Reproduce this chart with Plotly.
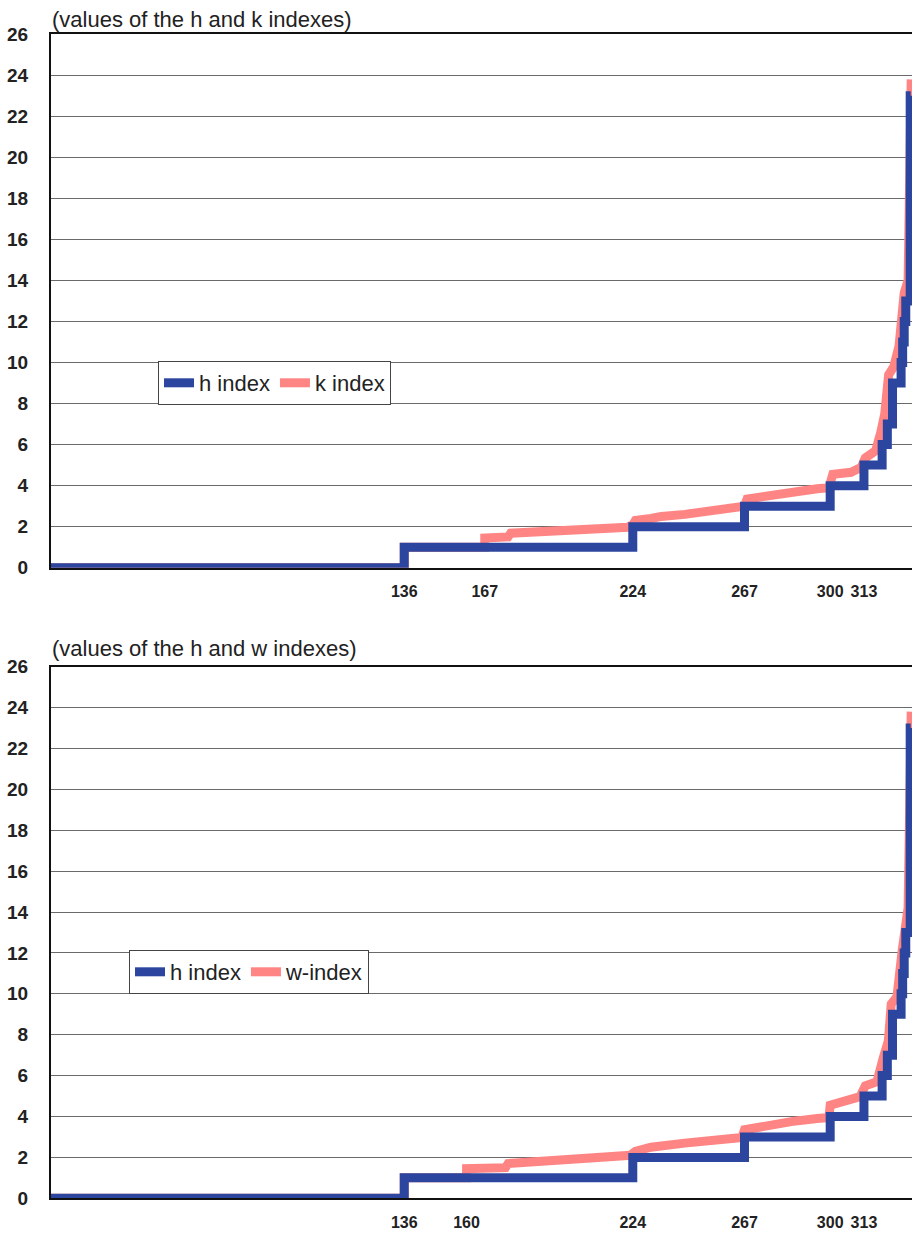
import plotly.graph_objects as go

# ---------------- data ----------------
# h index: step function over ranked authors
h_rank = [0, 136, 224, 267, 300, 313, 320, 322, 324, 327.3, 327.9, 328.5, 329.1, 330.8, 331]
h_value = [0, 1, 2, 3, 4, 5, 6, 7, 9, 10, 11, 12, 13, 23, 23]

# k index (top panel)
k_rank = [0, 136, 136, 167, 167, 176, 177, 190, 205, 222, 224, 225, 231, 235, 244, 255, 265,
          267, 268, 275, 285, 295, 299.5, 300, 301, 308, 312, 313.5, 317.5, 319.5, 321,
          322.5, 324.5, 326.5, 328.5, 330, 331.2]
k_value = [0, 0, 1, 1, 1.45, 1.5, 1.68, 1.75, 1.85, 1.97, 2.1, 2.3, 2.4, 2.5, 2.6, 2.75, 2.88,
           3.0, 3.35, 3.5, 3.7, 3.85, 3.9, 4.4, 4.55, 4.65, 4.9, 5.35, 5.7, 6.6, 7.5,
           9.4, 9.8, 10.8, 13.4, 14.0, 23.8]

# w-index (bottom panel)
w_rank = [0, 136, 136, 160, 160, 175, 176, 190, 205, 215, 223, 225, 231, 244, 255, 266,
          267, 275, 285, 295, 299.5, 300, 306, 311.5, 313.5, 318, 320.5, 322.4, 323.5,
          325.7, 327.7, 329, 330, 331.2]
w_value = [0, 0, 1, 1, 1.45, 1.5, 1.7, 1.8, 1.92, 2.0, 2.1, 2.3, 2.5, 2.7, 2.85, 2.97,
           3.35, 3.55, 3.75, 3.9, 3.95, 4.55, 4.75, 4.97, 5.5, 5.7, 6.9, 7.7, 9.5,
           9.85, 12.1, 13.6, 14.2, 23.8]

top_ticks = [136, 167, 224, 267, 300, 313]
bottom_ticks = [136, 160, 224, 267, 300, 313]
y_ticks = list(range(0, 27, 2))

top_title = "(values of the h and k indexes)"
bottom_title = "(values of the h and w indexes)"

# ---------------- styling ----------------
BLUE = "#2C46A0"
PINK = "#FF8585"
FONT = "Liberation Sans, Arial, Helvetica, sans-serif"
LW = 9

fig = go.Figure()

# top panel
fig.add_trace(go.Scatter(x=k_rank, y=k_value, mode="lines", name="k index",
                         line=dict(color=PINK, width=LW), xaxis="x", yaxis="y",
                         legend="legend", legendrank=2))
fig.add_trace(go.Scatter(x=h_rank, y=h_value, mode="lines", name="h index",
                         line=dict(color=BLUE, width=LW, shape="hv"), xaxis="x", yaxis="y",
                         legend="legend", legendrank=1))
# bottom panel
fig.add_trace(go.Scatter(x=w_rank, y=w_value, mode="lines", name="w-index",
                         line=dict(color=PINK, width=LW), xaxis="x2", yaxis="y2",
                         legend="legend2", legendrank=2))
fig.add_trace(go.Scatter(x=h_rank, y=h_value, mode="lines", name="h index",
                         line=dict(color=BLUE, width=LW, shape="hv"), xaxis="x2", yaxis="y2",
                         legend="legend2", legendrank=1))

xdom = [51 / 912, 1.0]
top_dom = [1 - 567.7 / 1233, 1 - 34.3 / 1233]
bot_dom = [1 - 1198.3 / 1233, 1 - 666.7 / 1233]


def xaxis_cfg(ticks, anchor):
    return dict(domain=xdom, range=[0, 331.5], anchor=anchor,
                tickmode="array", tickvals=ticks, ticktext=[str(t) for t in ticks],
                tickfont=dict(family=FONT, size=16, color="#222", weight="bold"),
                ticks="", ticklabelstandoff=8,
                showgrid=False, zeroline=False,
                showline=True, linecolor="#111", linewidth=2, mirror=True)


def yaxis_cfg(dom, anchor):
    return dict(domain=dom, range=[0, 26], anchor=anchor,
                tickmode="array", tickvals=y_ticks,
                tickfont=dict(family=FONT, size=19, color="#222", weight="bold"),
                ticks="", ticklabelstandoff=17,
                showgrid=True, gridcolor="#6a6a6a", gridwidth=1, zeroline=False,
                showline=True, linecolor="#111", linewidth=2)


legend_common = dict(orientation="h", bgcolor="white", bordercolor="#444", borderwidth=1,
                     font=dict(family=FONT, size=22, color="#222"),
                     xanchor="left", yanchor="middle", itemwidth=30,
                     traceorder="normal", itemclick=False)

fig.update_layout(
    width=912, height=1233,
    margin=dict(l=0, r=0, t=0, b=0, autoexpand=False),
    paper_bgcolor="white", plot_bgcolor="white",
    font=dict(family=FONT, color="#222"),
    showlegend=True,
    xaxis=xaxis_cfg(top_ticks, "y"),
    yaxis=yaxis_cfg(top_dom, "x"),
    xaxis2=xaxis_cfg(bottom_ticks, "y2"),
    yaxis2=yaxis_cfg(bot_dom, "x2"),
    legend=dict(x=158 / 912, y=1 - 383 / 1233, **legend_common),
    legend2=dict(x=129 / 912, y=1 - 972 / 1233, **legend_common),
    annotations=[
        dict(text=top_title, xref="paper", yref="paper", x=50 / 912, y=1 - 19 / 1233,
             xanchor="left", yanchor="middle", showarrow=False,
             font=dict(family=FONT, size=22, color="#222")),
        dict(text=bottom_title, xref="paper", yref="paper", x=50 / 912, y=1 - 648 / 1233,
             xanchor="left", yanchor="middle", showarrow=False,
             font=dict(family=FONT, size=22, color="#222")),
    ],
)

fig.write_html("out.html",
               config={"displayModeBar": False},
               post_script="document.body.style.margin='0';document.body.style.overflow='hidden';")
